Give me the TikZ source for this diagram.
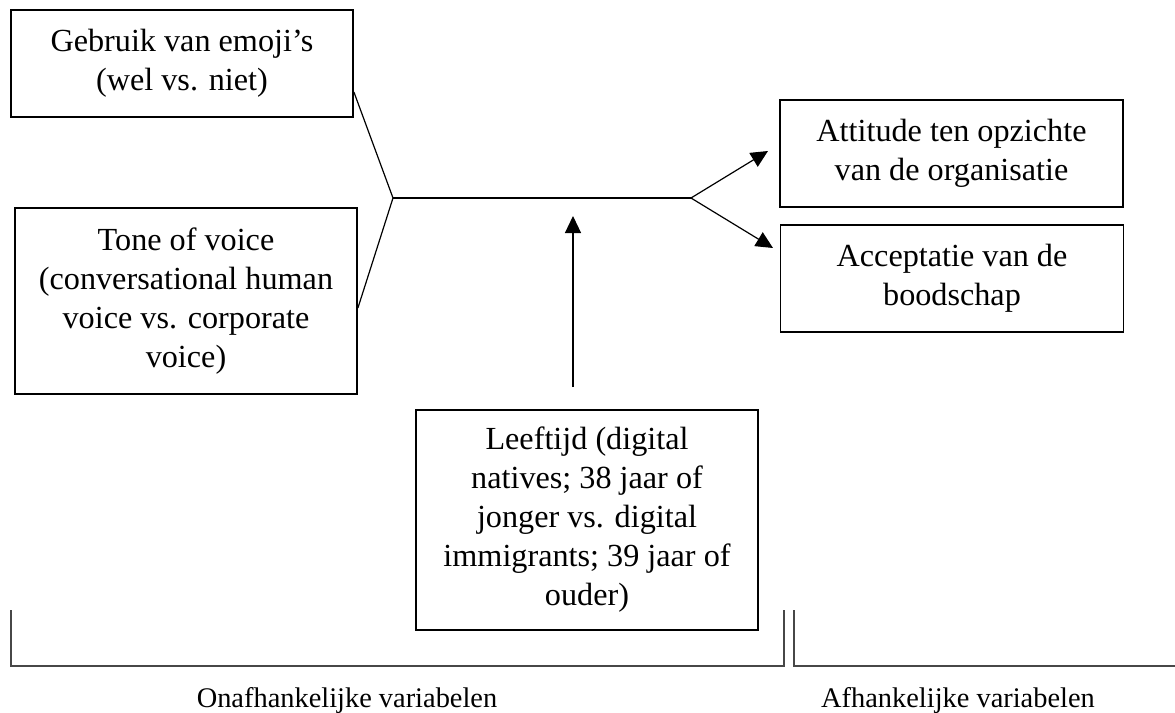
\documentclass[tikz,border=0pt]{standalone}
\usepackage{fontspec}
\setmainfont{Liberation Serif}
\usetikzlibrary{arrows.meta}
\begin{document}
\begin{tikzpicture}[x=1pt,y=-1pt,
  varbox/.style={draw=black,line width=1.8pt,minimum width=342pt,align=center,inner sep=0pt,
    font=\fontsize{32.2}{39}\selectfont},
  conn/.style={line width=1.2pt,black},
  arr/.style={conn,-{Triangle[length=17pt,width=16pt]}},
  brack/.style={line width=1.6pt,draw=black!72},
  lab/.style={font=\fontsize{28.4}{39}\selectfont,anchor=base,inner sep=0pt}]
\useasboundingbox (0,0) rectangle (1175,712);
\node[varbox,minimum height=107pt] (b1) at (182,63.5) {Gebruik van emoji’s\\(wel vs. niet)};
\node[varbox,minimum height=186pt] (b2) at (186,301) {Tone of voice\\(conversational human\\voice vs. corporate\\voice)};
\node[varbox,minimum width=343pt,minimum height=107pt] (b3) at (951.5,153.5) {Attitude ten opzichte\\van de organisatie};
\node[varbox,minimum width=343pt,minimum height=107pt] (b4) at (952,278.5) {Acceptatie van de\\boodschap};
\node[varbox,minimum height=220pt] (b5) at (587,520) {Leeftijd (digital\\natives; 38 jaar of\\jonger vs. digital\\immigrants; 39 jaar of\\ouder)};
\coordinate (j) at (393,198);
\coordinate (k) at (691,198);
\coordinate (m1) at (768,151);
\coordinate (m2) at (773,248);
\coordinate (ls) at (573,387);
\coordinate (lt) at (573,216);
\draw[conn] ([yshift=-28.5pt]b1.east) -- (j);
\draw[conn] ([yshift=-7pt]b2.east) -- (j);
\draw[conn] (j) -- (k);
\draw[arr] (k) -- (m1);
\draw[arr] (k) -- (m2);
\draw[arr] (ls) -- (lt);
\coordinate (l1) at (11,610);
\coordinate (l2) at (784,610);
\coordinate (r1) at (794,610);
\coordinate (r2) at (1175,666);
\draw[brack] (l1) |- (l2 |- r2) -- (l2);
\draw[brack] (r1) |- (r2);
\node[lab] (onaf) at (347,707) {Onafhankelijke variabelen};
\node[lab] (afh) at (958,707) {Afhankelijke variabelen};
\end{tikzpicture}
\end{document}
